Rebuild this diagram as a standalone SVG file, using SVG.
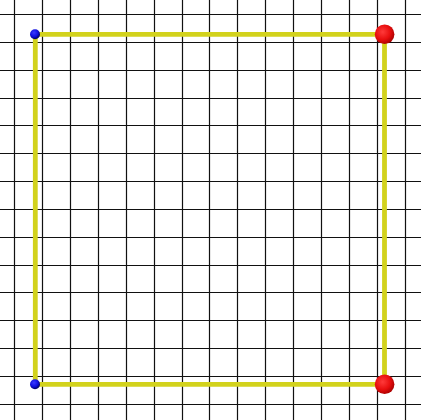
<svg xmlns="http://www.w3.org/2000/svg" width="421" height="420" viewBox="0 0 421 420">
<defs>
<style>
.grid line{stroke:#111111;stroke-width:1.2}
.edge{stroke:#d2d21c;stroke-width:4.8;fill:none;stroke-linecap:butt}
</style>
<radialGradient id="gRed" cx="0.4" cy="0.38" r="0.65">
<stop offset="0" stop-color="#ff3a3a"/>
<stop offset="0.6" stop-color="#e80e0e"/>
<stop offset="1" stop-color="#a80000"/>
</radialGradient>
<radialGradient id="gBlue" cx="0.4" cy="0.35" r="0.65">
<stop offset="0" stop-color="#3a3aff"/>
<stop offset="0.6" stop-color="#1010e0"/>
<stop offset="1" stop-color="#000060"/>
</radialGradient>
</defs>
<rect width="421" height="420" fill="#ffffff"/>
<g class="grid" id="grid">
<line x1="14.5" y1="0" x2="14.5" y2="420"/>
<line x1="42.5" y1="0" x2="42.5" y2="420"/>
<line x1="70.5" y1="0" x2="70.5" y2="420"/>
<line x1="98.5" y1="0" x2="98.5" y2="420"/>
<line x1="126.5" y1="0" x2="126.5" y2="420"/>
<line x1="154.5" y1="0" x2="154.5" y2="420"/>
<line x1="182.5" y1="0" x2="182.5" y2="420"/>
<line x1="209.5" y1="0" x2="209.5" y2="420"/>
<line x1="237.5" y1="0" x2="237.5" y2="420"/>
<line x1="265.5" y1="0" x2="265.5" y2="420"/>
<line x1="293.5" y1="0" x2="293.5" y2="420"/>
<line x1="321.5" y1="0" x2="321.5" y2="420"/>
<line x1="349.5" y1="0" x2="349.5" y2="420"/>
<line x1="377.5" y1="0" x2="377.5" y2="420"/>
<line x1="405.5" y1="0" x2="405.5" y2="420"/>
<line x1="0" y1="14.5" x2="421" y2="14.5"/>
<line x1="0" y1="42.5" x2="421" y2="42.5"/>
<line x1="0" y1="70.5" x2="421" y2="70.5"/>
<line x1="0" y1="98.5" x2="421" y2="98.5"/>
<line x1="0" y1="125.5" x2="421" y2="125.5"/>
<line x1="0" y1="153.5" x2="421" y2="153.5"/>
<line x1="0" y1="181.5" x2="421" y2="181.5"/>
<line x1="0" y1="209.5" x2="421" y2="209.5"/>
<line x1="0" y1="237.5" x2="421" y2="237.5"/>
<line x1="0" y1="265.5" x2="421" y2="265.5"/>
<line x1="0" y1="292.5" x2="421" y2="292.5"/>
<line x1="0" y1="320.5" x2="421" y2="320.5"/>
<line x1="0" y1="348.5" x2="421" y2="348.5"/>
<line x1="0" y1="376.5" x2="421" y2="376.5"/>
<line x1="0" y1="404.5" x2="421" y2="404.5"/>
</g>
<g id="connectors">
<line class="edge" x1="35.3" y1="34.4" x2="384.5" y2="34.4"/>
<line class="edge" x1="384.5" y1="34.4" x2="384.5" y2="384.3"/>
<line class="edge" x1="35.3" y1="384.3" x2="384.5" y2="384.3"/>
<line class="edge" x1="35.3" y1="34.4" x2="35.3" y2="384.3"/>
</g>
<g id="p1"><circle cx="35" cy="34.2" r="5" fill="url(#gBlue)"/></g>
<g id="p2"><circle cx="384.6" cy="34.3" r="9.8" fill="url(#gRed)"/></g>
<g id="p3"><circle cx="384.6" cy="384.3" r="9.8" fill="url(#gRed)"/></g>
<g id="p4"><circle cx="35" cy="384.2" r="5" fill="url(#gBlue)"/></g>
</svg>
